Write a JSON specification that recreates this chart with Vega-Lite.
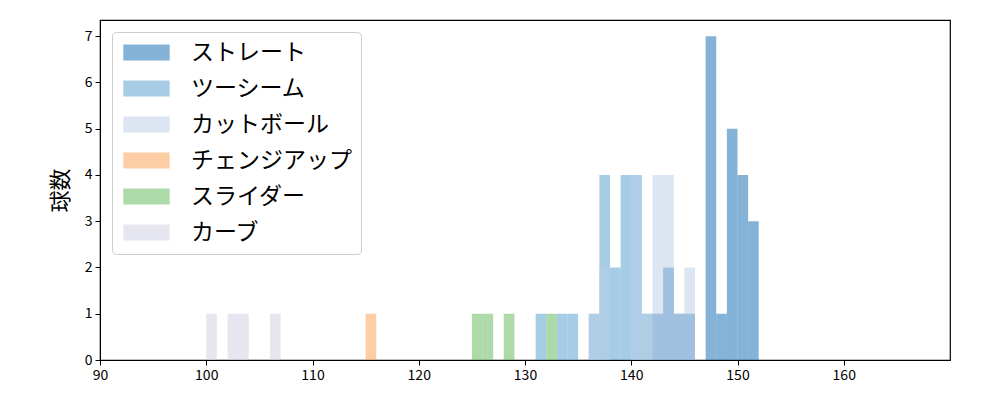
{
  "$schema": "https://vega.github.io/schema/vega-lite/v6.json",
  "autosize": "none",
  "padding": {"left": 100, "top": 20, "right": 50, "bottom": 40},
  "width": 850,
  "height": 340,
  "background": "white",
  "config": {
    "font": "Noto Sans CJK JP",
    "view": {"stroke": "black", "strokeWidth": 1.2},
    "axis": {
      "grid": false,
      "domainColor": "black",
      "tickColor": "black",
      "labelColor": "black",
      "titleColor": "black",
      "labelFontSize": 14,
      "labelFlush": false,
      "tickSize": 5,
      "labelPadding": 3
    }
  },
  "data": {
    "values": [
      {"type": "ストレート", "start": 142, "end": 143, "count": 1},
      {"type": "ストレート", "start": 143, "end": 144, "count": 2},
      {"type": "ストレート", "start": 144, "end": 145, "count": 1},
      {"type": "ストレート", "start": 145, "end": 146, "count": 1},
      {"type": "ストレート", "start": 147, "end": 148, "count": 7},
      {"type": "ストレート", "start": 148, "end": 149, "count": 1},
      {"type": "ストレート", "start": 149, "end": 150, "count": 5},
      {"type": "ストレート", "start": 150, "end": 151, "count": 4},
      {"type": "ストレート", "start": 151, "end": 152, "count": 3},
      {"type": "ツーシーム", "start": 131, "end": 132, "count": 1},
      {"type": "ツーシーム", "start": 133, "end": 134, "count": 1},
      {"type": "ツーシーム", "start": 134, "end": 135, "count": 1},
      {"type": "ツーシーム", "start": 136, "end": 137, "count": 1},
      {"type": "ツーシーム", "start": 137, "end": 138, "count": 4},
      {"type": "ツーシーム", "start": 138, "end": 139, "count": 2},
      {"type": "ツーシーム", "start": 139, "end": 140, "count": 4},
      {"type": "ツーシーム", "start": 140, "end": 141, "count": 4},
      {"type": "ツーシーム", "start": 141, "end": 142, "count": 1},
      {"type": "カットボール", "start": 136, "end": 137, "count": 1},
      {"type": "カットボール", "start": 137, "end": 138, "count": 2},
      {"type": "カットボール", "start": 140, "end": 141, "count": 4},
      {"type": "カットボール", "start": 141, "end": 142, "count": 1},
      {"type": "カットボール", "start": 142, "end": 143, "count": 4},
      {"type": "カットボール", "start": 143, "end": 144, "count": 4},
      {"type": "カットボール", "start": 144, "end": 145, "count": 1},
      {"type": "カットボール", "start": 145, "end": 146, "count": 2},
      {"type": "チェンジアップ", "start": 115, "end": 116, "count": 1},
      {"type": "スライダー", "start": 125, "end": 126, "count": 1},
      {"type": "スライダー", "start": 126, "end": 127, "count": 1},
      {"type": "スライダー", "start": 128, "end": 129, "count": 1},
      {"type": "スライダー", "start": 132, "end": 133, "count": 1},
      {"type": "カーブ", "start": 100, "end": 101, "count": 1},
      {"type": "カーブ", "start": 102, "end": 103, "count": 1},
      {"type": "カーブ", "start": 103, "end": 104, "count": 1},
      {"type": "カーブ", "start": 106, "end": 107, "count": 1}
    ]
  },
  "mark": {"type": "bar", "opacity": 0.5, "cornerRadius": 0},
  "encoding": {
    "x": {
      "field": "start",
      "type": "quantitative",
      "scale": {"domain": [90, 170], "nice": false, "zero": false},
      "axis": {"values": [90, 100, 110, 120, 130, 140, 150, 160], "title": null}
    },
    "x2": {"field": "end"},
    "y": {
      "field": "count",
      "type": "quantitative",
      "stack": null,
      "scale": {"domain": [0, 7.35], "nice": false},
      "axis": {"values": [0, 1, 2, 3, 4, 5, 6, 7], "title": "球数", "titleFontSize": 22, "titleFontWeight": "normal", "titlePadding": 12}
    },
    "y2": {"datum": 0},
    "color": {
      "field": "type",
      "type": "nominal",
      "scale": {
        "domain": ["ストレート", "ツーシーム", "カットボール", "チェンジアップ", "スライダー", "カーブ"],
        "range": ["#0b67af", "#4f9bcd", "#b9cde5", "#fb9d4b", "#59b551", "#cdcde1"]
      },
      "legend": {
        "title": null,
        "orient": "none",
        "legendX": 12,
        "legendY": 12,
        "padding": 9,
        "labelFontSize": 23,
        "labelLimit": 400,
        "labelColor": "black",
        "symbolType": "M-2.9,-1L2.9,-1L2.9,1L-2.9,1Z",
        "symbolSize": 256,
        "symbolOpacity": 0.5,
        "symbolStrokeWidth": 0,
        "symbolOffset": 14,
        "labelOffset": 33,
        "rowPadding": 12,
        "strokeColor": "#cccccc",
        "fillColor": "rgba(255,255,255,0.8)",
        "cornerRadius": 4
      }
    }
  }
}
